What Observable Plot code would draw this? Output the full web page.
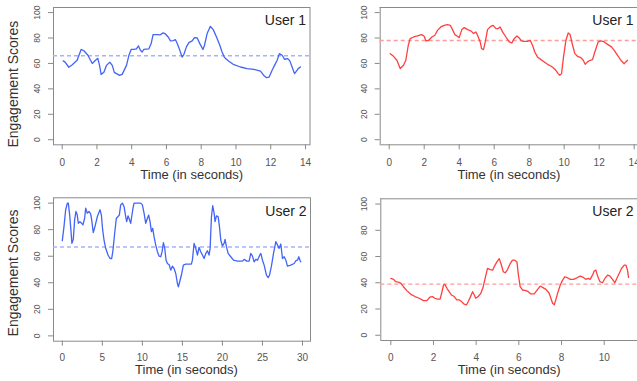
<!DOCTYPE html>
<html>
<head>
<meta charset="utf-8">
<script src="https://cdn.jsdelivr.net/npm/d3@7"></script>
<script src="https://cdn.jsdelivr.net/npm/@observablehq/plot@0.6"></script>
<style>
html, body { margin: 0; padding: 0; background: #fff; overflow: hidden; }
#wrap { position: relative; width: 637px; height: 381px; }
.panel { position: absolute; }
</style>
</head>
<body>
<div id="wrap"></div>
<script>
// ---------- data ----------
const yTicks = [0, 20, 40, 60, 80, 100];
const xTicksTopLeft = [0, 2, 4, 6, 8, 10, 12, 14];
const xTicksTopRight = [0, 2, 4, 6, 8, 10, 12, 14];
const xTicksBottomLeft = [0, 5, 10, 15, 20, 25, 30];
const xTicksBottomRight = [0, 2, 4, 6, 8, 10];

const userLabels = ["User 1", "User 1", "User 2", "User 2"];
const xTitle = "Time (in seconds)";
const yTitle = "Engagement Scores";

// top-left: User 1 (blue)
const user1BlueTime = [0.06,0.17,0.38,0.58,0.86,1.09,1.25,1.48,1.73,1.92,2.05,2.15,2.24,2.4,2.55,2.74,2.88,3.0,3.3,3.45,3.7,3.84,3.97,4.12,4.27,4.39,4.5,4.6,4.7,4.98,5.12,5.23,5.47,5.62,5.81,5.94,6.1,6.23,6.39,6.52,6.62,6.77,6.9,7.0,7.15,7.29,7.48,7.61,7.77,7.92,8.1,8.19,8.34,8.53,8.69,8.88,9.07,9.2,9.34,9.59,9.88,10.26,10.64,11.03,11.41,11.6,11.76,11.91,12.08,12.22,12.37,12.5,12.66,12.79,12.98,13.1,13.23,13.37,13.48,13.58,13.71];
const user1BlueScore = [62,61,57,59,62.5,71,70,66.4,60,62.5,64,58.5,51.4,53,58.5,61,58.5,53,50.6,51.4,58.5,66.4,71,71,71.4,73.8,70.3,69,71,71.4,75.6,82.7,82.7,82.4,84,83.2,80.8,77.7,78,78.7,75.6,70.3,65,67,73,76.4,77.7,80.3,80,75.6,71,74.3,83.5,89.2,86.6,80.8,74.3,69,64.6,61.7,59,57.2,55.9,55.4,54,50.6,48.8,49.3,54.6,58.5,62.5,67.7,66.4,63.3,63.8,62,57.2,52,54,55.9,57.2];
const user1BlueMean = 66;

// top-right: User 1 (red)
const user1RedTime = [0.06,0.25,0.44,0.63,0.82,0.95,1.09,1.2,1.39,1.62,1.85,2.0,2.1,2.25,2.44,2.61,2.76,2.95,3.14,3.33,3.49,3.62,3.75,3.9,4.0,4.15,4.29,4.48,4.67,4.82,4.95,5.05,5.2,5.28,5.39,5.49,5.62,5.81,5.94,6.1,6.23,6.34,6.48,6.67,6.86,7.01,7.14,7.3,7.43,7.56,7.71,7.9,8.06,8.19,8.32,8.48,8.67,8.86,9.05,9.24,9.39,9.52,9.66,9.75,9.85,9.96,10.1,10.23,10.34,10.48,10.61,10.76,10.95,11.09,11.2,11.33,11.49,11.62,11.75,11.94,12.1,12.29,12.48,12.7,12.86,13.05,13.24,13.43,13.52,13.62];
const user1RedScore = [67.7,65.6,62.5,56,58.5,62.5,74.3,79.5,80.8,81.6,82.7,81.4,77.7,78.2,80.8,82.2,86,88.7,90,90.5,90,86.6,82.7,81.4,80.3,86.6,88.2,86.6,85.6,83.5,84.8,82.2,76.9,71.6,70.9,76.9,86.6,89.2,90,87.4,87.4,88.7,84.8,80.8,76.9,76.1,79.5,81.6,80,77.7,77.4,77.4,78.2,74.3,69,65,63,61.2,59.3,58,56.4,54.6,52,50.7,52,65,78.2,84,82.7,74.3,67.7,65.6,64.6,62.5,59.3,61.2,62.5,63,69,76.9,77.7,76.9,75,73,70.3,66.4,62.5,59.8,61.2,62.5];
const user1RedMean = 78;

// bottom-left: User 2 (blue)
const user2BlueTime = [0,0.21,0.42,0.63,0.75,0.92,1.04,1.2,1.37,1.54,1.7,1.87,2.0,2.2,2.42,2.58,2.79,2.92,3.12,3.33,3.54,3.67,3.87,4.08,4.38,4.71,4.88,5.04,5.21,5.42,5.71,5.96,6.17,6.33,6.54,6.75,6.96,7.12,7.29,7.5,7.71,7.92,8.04,8.21,8.33,8.54,8.67,8.83,8.96,9.38,9.79,10.0,10.21,10.42,10.63,10.79,10.96,11.13,11.29,11.46,11.67,11.88,12.08,12.29,12.46,12.63,12.79,12.96,13.13,13.37,13.54,13.75,13.96,14.17,14.38,14.5,14.71,14.92,15.12,15.42,15.83,16.12,16.25,16.46,16.67,16.88,17.08,17.29,17.5,17.71,17.92,18.12,18.33,18.46,18.63,18.79,18.96,19.08,19.25,19.46,19.63,19.79,20.0,20.21,20.33,20.5,20.71,21.04,21.38,21.88,22.5,22.71,23.04,23.33,23.54,23.75,23.96,24.17,24.38,24.67,24.79,25.0,25.21,25.5,25.71,25.88,26.12,26.38,26.67,26.88,27.08,27.29,27.5,27.71,27.92,28.12,28.54,28.96,29.17,29.38,29.54,29.71,29.79];
const user2BlueScore = [71.7,82.3,95,100,100,91,82.3,69.7,72.7,87.4,93.7,91,84.8,86,84.8,83.6,88.6,96.2,92.4,93.7,91.9,87.4,77.8,82.3,89.9,95,91,79.8,72.2,66,60.9,58.3,58.3,64.6,77.3,88.6,89.9,91,98.7,100,97.5,89.9,86,90.4,88.6,84.8,89.9,96.2,100,100,100,98.7,92.4,84.8,88.6,91,86,78.5,81,74.7,68.4,63.4,60.1,59.6,63.4,70.2,65.9,57,54.5,53.3,49.5,52.5,50.8,47,39.4,36.9,41.9,47,53.3,54,54,54,57,69.7,65.9,60.9,66.7,63.4,60.9,58.3,62.1,64.1,60.9,65.9,89.9,98,92.4,86,90.4,89.9,82.3,72.2,67.7,69.7,72.7,67.2,62.1,59.6,57,56.3,56.3,57.6,56.3,56.3,62.1,60.1,55.8,57.6,57,60.9,62.1,57,53.3,45.7,43.9,45.7,52.5,62.1,71,68.4,65.9,69.2,58.3,59.6,57,52.5,53.3,54.5,56.6,57,59.6,56.6,55.8];
const user2BlueMean = 67;

// bottom-right: User 2 (red)
const user2RedTime = [0,0.13,0.23,0.39,0.47,0.59,0.75,0.94,1.13,1.33,1.53,1.69,1.83,1.95,2.06,2.19,2.31,2.38,2.47,2.53,2.63,2.73,2.84,2.97,3.09,3.2,3.31,3.44,3.55,3.63,3.75,3.83,3.91,3.98,4.09,4.22,4.33,4.42,4.53,4.66,4.77,4.84,4.97,5.08,5.16,5.27,5.36,5.47,5.58,5.7,5.81,5.91,5.98,6.06,6.17,6.33,6.44,6.56,6.72,6.88,7.0,7.11,7.27,7.42,7.5,7.58,7.66,7.73,7.84,7.94,8.05,8.16,8.28,8.41,8.56,8.72,8.88,9.02,9.14,9.25,9.34,9.45,9.53,9.61,9.69,9.8,9.92,10.03,10.16,10.27,10.39,10.5,10.59,10.7,10.81,10.94,11.02,11.09,11.14];
const user2RedScore = [43.3,42.6,40.8,40.3,39.5,37,34,31.2,29.5,28.2,26.4,26.4,29,29.5,28.2,27.5,27.5,32,38.3,38.8,35.8,33.2,30.7,29.5,27,27,25.7,23.7,23.2,25.7,30,33.2,30.7,28.2,29.5,32,37,43.3,50.9,50.1,49.6,52.1,55.9,58.4,54.7,48.4,47.6,50.1,54.2,57.2,57.2,55.9,45.8,37,34.5,34,33.2,31.5,31.5,35,37.5,36.5,35,32,28.2,24.4,23.2,27,33.2,38.3,42,44.6,43.8,42.6,42.6,43.8,45.1,44.1,42.6,43.3,42.6,45.8,48.9,49.6,45.1,40.8,40,43.3,45.8,45.1,42.6,40,43.3,47.1,50.9,53.4,53.4,49.6,44.1];
const user2RedMean = 39;

// ---------- drawing ----------
const BLUE = "#4264f7", BLUE_MEAN = "#a6b3fb";
const RED = "#ff4040", RED_MEAN = "#ff9c9c";
const FRAME = "#8a8a8a", TICKTEXT = "#555", TITLE = "#333";

function panel(o) {
  const rows = o.time.map((t, i) => ({t, s: o.score[i]}));
  const marks = [];
  if (o.fullFrame) {
    marks.push(Plot.frame({stroke: FRAME}));
  } else {
    marks.push(Plot.ruleX([o.xDomain[0]], {stroke: FRAME}));
    marks.push(Plot.ruleY([-4, 104], {stroke: FRAME}));
  }
  marks.push(
    Plot.axisX({ticks: o.xTicks, tickSize: 5, tickPadding: o.xPad, fontSize: 10,
      stroke: FRAME, fill: TICKTEXT, label: null}),
    Plot.axisY({ticks: yTicks, tickRotate: -90, tickSize: 5, tickPadding: 8.5, fontSize: 8.5,
      stroke: FRAME, fill: TICKTEXT, label: null}),
    Plot.ruleY([o.mean], {stroke: o.meanColor, strokeWidth: 1.4, strokeDasharray: "4,3"}),
    Plot.line(rows, {x: "t", y: "s", stroke: o.color, strokeWidth: 1.3}),
    Plot.text([o.user], {text: d => d, frameAnchor: "top-right", textAnchor: "end",
      lineAnchor: "bottom", dx: -4, dy: o.userDy, fontSize: 14, fill: "#222"}),
    Plot.text([xTitle], {text: d => d, frameAnchor: "bottom", textAnchor: "middle",
      lineAnchor: "bottom", dx: o.xTitleDx, dy: o.xTitleDy, fontSize: 13, fill: TITLE})
  );
  if (o.showYTitle) {
    marks.push(Plot.text([yTitle], {text: d => d, frameAnchor: "left", rotate: -90,
      textAnchor: "middle", lineAnchor: "top", dx: -45, dy: o.yTitleDy, fontSize: 14, fill: TITLE}));
  }
  const chart = Plot.plot({
    width: o.width, height: o.height,
    marginLeft: o.mL, marginRight: o.mR, marginTop: o.mT, marginBottom: o.mB,
    x: {domain: o.xDomain},
    y: {domain: [-4, 104]},
    style: {fontFamily: "'Liberation Sans', Arial, Helvetica, sans-serif", background: "transparent", overflow: "visible"},
    marks
  });
  chart.classList.add("panel");
  chart.style.left = o.left + "px";
  chart.style.top = o.top + "px";
  document.getElementById("wrap").appendChild(chart);
}

panel({left: 0, top: 0, width: 318, height: 190, mL: 53, mR: 8.5, mT: 7, mB: 45.7,
  xDomain: [-0.5, 14.26], xTicks: xTicksTopLeft, xPad: 9,
  time: user1BlueTime, score: user1BlueScore, mean: user1BlueMean,
  color: BLUE, meanColor: BLUE_MEAN, user: userLabels[0], userDy: 17.5,
  xTitleDx: 10, xTitleDy: 34, showYTitle: true, yTitleDy: 8, fullFrame: true});

panel({left: 318, top: 0, width: 319, height: 190, mL: 61.7, mR: 0, mT: 7, mB: 45.7,
  xDomain: [-0.514, 14.19], xTicks: xTicksTopRight, xPad: 9,
  time: user1RedTime, score: user1RedScore, mean: user1RedMean,
  color: RED, meanColor: RED_MEAN, user: userLabels[1], userDy: 17.5,
  xTitleDx: 0, xTitleDy: 34, showYTitle: false, fullFrame: false});

panel({left: 0, top: 190, width: 318, height: 191, mL: 53, mR: 8, mT: 7.3, mB: 40.3,
  xDomain: [-1.1, 31.0], xTicks: xTicksBottomLeft, xPad: 8,
  time: user2BlueTime, score: user2BlueScore, mean: user2BlueMean,
  color: BLUE, meanColor: BLUE_MEAN, user: userLabels[2], userDy: 18,
  xTitleDx: 4.5, xTitleDy: 33, showYTitle: true, yTitleDy: 3.5, fullFrame: true});

panel({left: 318, top: 190, width: 319, height: 191, mL: 62.3, mR: 0, mT: 8.3, mB: 41,
  xDomain: [-0.47, 11.56], xTicks: xTicksBottomRight, xPad: 8,
  time: user2RedTime, score: user2RedScore, mean: user2RedMean,
  color: RED, meanColor: RED_MEAN, user: userLabels[3], userDy: 17,
  xTitleDx: 0, xTitleDy: 33, showYTitle: false, fullFrame: false});
</script>
</body>
</html>
